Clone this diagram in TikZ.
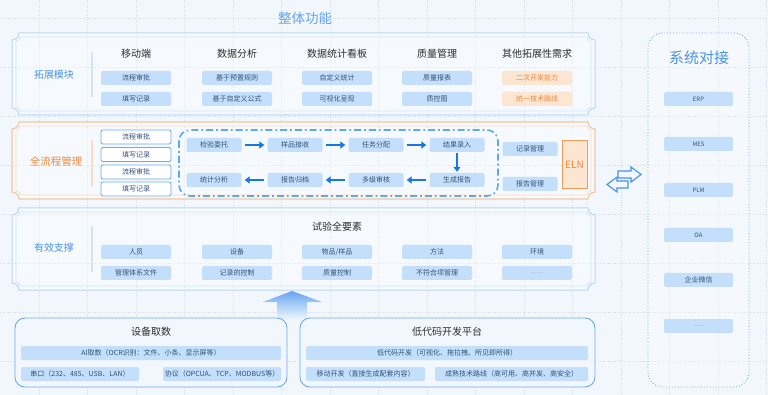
\documentclass[tikz,border=0pt]{standalone}
\usepackage{fontspec}
\setmainfont{Noto Sans CJK SC}
\usetikzlibrary{arrows.meta}
\definecolor{bg}{HTML}{F2F7FD}
\definecolor{gridc}{HTML}{D3DCE7}
\definecolor{boxfill}{HTML}{C3DFFB}
\definecolor{boxtext}{HTML}{34527A}
\definecolor{frameb}{HTML}{BCD7F5}
\definecolor{framei}{HTML}{D3E4F8}
\definecolor{labblue}{HTML}{4A94E8}
\definecolor{orng}{HTML}{F0883A}
\definecolor{orfill}{HTML}{FDE6D1}
\definecolor{orframe}{HTML}{F6C79C}
\definecolor{orframei}{HTML}{F9DCC2}
\definecolor{linkblue}{HTML}{6AAAF0}
\definecolor{arrblue}{HTML}{1677E6}
\definecolor{dashblue}{HTML}{5AAAF2}
\definecolor{hdr}{HTML}{2E2E2E}
\newcommand\nframe[6]{%
\draw[#1] ({#2},{#3+#6}) .. controls ({#2+0.55*#6},{#3+#6}) and ({#2+#6},{#3+0.55*#6}) .. ({#2+#6},{#3})
 -- ({#4-#6},{#3}) .. controls ({#4-#6},{#3+0.55*#6}) and ({#4-0.55*#6},{#3+#6}) .. ({#4},{#3+#6})
 -- ({#4},{#5-#6}) .. controls ({#4-0.55*#6},{#5-#6}) and ({#4-#6},{#5-0.55*#6}) .. ({#4-#6},{#5})
 -- ({#2+#6},{#5}) .. controls ({#2+#6},{#5-0.55*#6}) and ({#2+0.55*#6},{#5-#6}) .. ({#2},{#5-#6}) -- cycle;}
\tikzset{
 bx/.style={rectangle, rounded corners=2pt, fill=boxfill, text=boxtext, minimum width=70pt, minimum height=14pt, inner sep=0pt, font=\fontsize{7}{8}\selectfont},
 obx/.style={bx, fill=orfill, text=orng},
 wbx/.style={bx, fill=white, draw=linkblue, line width=0.8pt},
 fbx/.style={bx, minimum width=55pt},
 sbx/.style={bx, minimum width=69pt, font=\fontsize{6}{7}\selectfont},
 hdrtxt/.style={text=hdr, font=\fontsize{10}{12}\selectfont, inner sep=0pt},
 lab/.style={text=labblue, font=\fontsize{10}{12}\selectfont, inner sep=0pt},
 sep/.style={line width=1.6pt, draw=framei},
 flowarr/.style={draw=arrblue, line width=1.8pt, -{Triangle[length=5pt,width=7pt]}, shorten >=3pt, shorten <=3pt},
 hollow/.style={draw=arrblue!80!white, line width=1.1pt, fill=bg, line join=miter},
}
\begin{document}
\begin{tikzpicture}[x=1pt,y=-1pt]
\useasboundingbox (0,0) rectangle (768,395);
\fill[bg] (0,0) rectangle (768,395);
% grid
\foreach \k in {0,...,15} \draw[gridc, dotted, line width=0.5pt] ({39+48.5*\k},0) -- ({39+48.5*\k},395);
\foreach \k in {0,...,7} \draw[gridc, dotted, line width=0.5pt] (0,{18+49*\k}) -- (768,{18+49*\k});

% title
\node[text=labblue!85!white, font=\fontsize{13.5}{15}\selectfont, inner sep=0pt] (title) at (305,18) {整体功能};

% ---------- top panel ----------
\nframe{draw=frameb, line width=1pt, fill=white, fill opacity=0.35}{12}{33}{595}{115}{7}
\nframe{draw=framei, line width=0.8pt}{16}{37}{591}{111}{4}
\node[lab] (l1) at (54,75) {拓展模块};
\draw[sep] (92,52) -- (92,97);
\node[hdrtxt] (h1) at (136,54) {移动端};
\node[hdrtxt] (h2) at (237,54) {数据分析};
\node[hdrtxt] (h3) at (337,54) {数据统计看板};
\node[hdrtxt] (h4) at (437,54) {质量管理};
\node[hdrtxt] (h5) at (537,54) {其他拓展性需求};
\node[bx] (t11) at (136,78) {流程审批};
\node[bx] (t12) at (136,99) {填写记录};
\node[bx] (t21) at (237,78) {基于预置规则};
\node[bx] (t22) at (237,99) {基于自定义公式};
\node[bx] (t31) at (337,78) {自定义统计};
\node[bx] (t32) at (337,99) {可视化呈现};
\node[bx] (t41) at (437,78) {质量报表};
\node[bx] (t42) at (437,99) {质控图};
\node[obx] (t51) at (537,78) {二次开发能力};
\node[obx] (t52) at (537,99) {统一技术路线};

% ---------- middle panel ----------
\nframe{draw=orframe, line width=1.2pt, fill=white, fill opacity=0.35}{12}{122}{595}{199}{7}
\nframe{draw=orframei, line width=0.8pt}{16}{126}{591}{195}{4}
\node[text=orng, font=\fontsize{10.5}{12}\selectfont, inner sep=0pt] (l2) at (56,161) {全流程管理};
\draw[line width=1.6pt, draw=orframei] (92,140) -- (92,186);
\node[wbx] (w1) at (136,137) {流程审批};
\node[wbx] (w2) at (136,154.5) {填写记录};
\node[wbx] (w3) at (136,172) {流程审批};
\node[wbx] (w4) at (136,189) {填写记录};
\draw[dashblue, line width=1.6pt, rounded corners=11pt, dash pattern=on 7pt off 3pt on 1.8pt off 3pt] (179,130) rectangle (498,196);
\node[fbx] (f1) at (214,145) {检验委托};
\node[fbx] (f2) at (295,145) {样品接收};
\node[fbx] (f3) at (376,145) {任务分配};
\node[fbx] (f4) at (457,145) {结果录入};
\node[fbx] (f5) at (457,180) {生成报告};
\node[fbx] (f6) at (376,180) {多级审核};
\node[fbx] (f7) at (295,180) {报告归档};
\node[fbx] (f8) at (214,180) {统计分析};
\draw[flowarr] (f1) -- (f2);
\draw[flowarr] (f2) -- (f3);
\draw[flowarr] (f3) -- (f4);
\draw[flowarr, shorten >=1pt, shorten <=1pt] (f4) -- (f5);
\draw[flowarr] (f5) -- (f6);
\draw[flowarr] (f6) -- (f7);
\draw[flowarr] (f7) -- (f8);
\node[fbx] (r1) at (530,149) {记录管理};
\node[fbx] (r2) at (530,184) {报告管理};
\node[rectangle, fill=orfill, draw=orng!85!white, line width=1pt, minimum width=25pt, minimum height=48pt, inner sep=0pt, text=orng, font=\fontsize{10}{12}\selectfont] (eln) at (574.5,165) {ELN};

% hollow double arrow
\draw[hollow] (618,171) -- (631,171) -- (631,167) -- (641,174.5) -- (631,182) -- (631,178) -- (618,178) -- cycle;
\draw[hollow] (628,181) -- (617,181) -- (617,177) -- (607,184.5) -- (617,192) -- (617,188) -- (628,188) -- cycle;

% ---------- bottom panel ----------
\nframe{draw=frameb, line width=1pt, fill=white, fill opacity=0.35}{12}{208}{595}{290}{7}
\nframe{draw=framei, line width=0.8pt}{16}{212}{591}{286}{4}
\node[lab] (l3) at (54,248) {有效支撑};
\draw[sep] (92,226) -- (92,272);
\node[hdrtxt] (h6) at (337,227) {试验全要素};
\node[bx] (e11) at (136,252) {人员};
\node[bx] (e12) at (136,273) {管理体系文件};
\node[bx] (e21) at (237,252) {设备};
\node[bx] (e22) at (237,273) {记录的控制};
\node[bx] (e31) at (337,252) {物品/样品};
\node[bx] (e32) at (337,273) {质量控制};
\node[bx] (e41) at (437,252) {方法};
\node[bx] (e42) at (437,273) {不符合项管理};
\node[bx] (e51) at (537,252) {环境};
\node[bx, text=boxtext!50!white] (e52) at (537,273) {......};

% big up arrow
\shade[top color=linkblue!95!blue, bottom color=bg, middle color=linkblue!55!white]
 (277,320) -- (277,302) -- (263,302) -- (292,291) -- (322,302) -- (307,302) -- (307,320) -- cycle;

% ---------- bottom boxes ----------
\draw[draw=linkblue, line width=0.9pt, fill=bg, rounded corners=10pt] (15,318) rectangle (287,387);
\node[hdrtxt] (d0) at (151,332) {设备取数};
\node[bx, minimum width=260pt] (d1) at (151,353) {AI取数（OCR识别：文件、小条、显示屏等）};
\node[bx, minimum width=118pt] (d2) at (80,374) {串口（232、485、USB、LAN）};
\node[bx, minimum width=118pt] (d3) at (222,374) {协议（OPCUA、TCP、MODBUS等）};

\draw[draw=linkblue, line width=0.9pt, fill=bg, rounded corners=10pt] (300,318) rectangle (595,387);
\node[hdrtxt] (c0) at (447,332) {低代码开发平台};
\node[bx, minimum width=282pt] (c1) at (447,353) {低代码开发（可视化、拖拉拽、所见即所得）};
\node[bx, minimum width=119pt] (c2) at (365.5,374) {移动开发（直接生成配套内容）};
\node[bx, minimum width=153pt] (c3) at (511.5,374) {成熟技术路线（高可用、高并发、高安全）};

% ---------- right panel ----------
\draw[draw=linkblue, line width=0.9pt, dotted, fill=white, fill opacity=0.3, rounded corners=15pt] (648,33) rectangle (749,387);
\node[text=labblue, font=\fontsize{15}{17}\selectfont, inner sep=0pt] (s0) at (699,58) {系统对接};
\node[sbx] (s1) at (698.5,99) {ERP};
\node[sbx] (s2) at (698.5,144) {MES};
\node[sbx] (s3) at (698.5,190) {PLM};
\node[sbx] (s4) at (698.5,235) {OA};
\node[sbx, font=\fontsize{7}{8}\selectfont] (s5) at (698.5,280) {企业微信};
\node[sbx, text=boxtext!60!white] (s6) at (698.5,326) {......};
\end{tikzpicture}
\end{document}
